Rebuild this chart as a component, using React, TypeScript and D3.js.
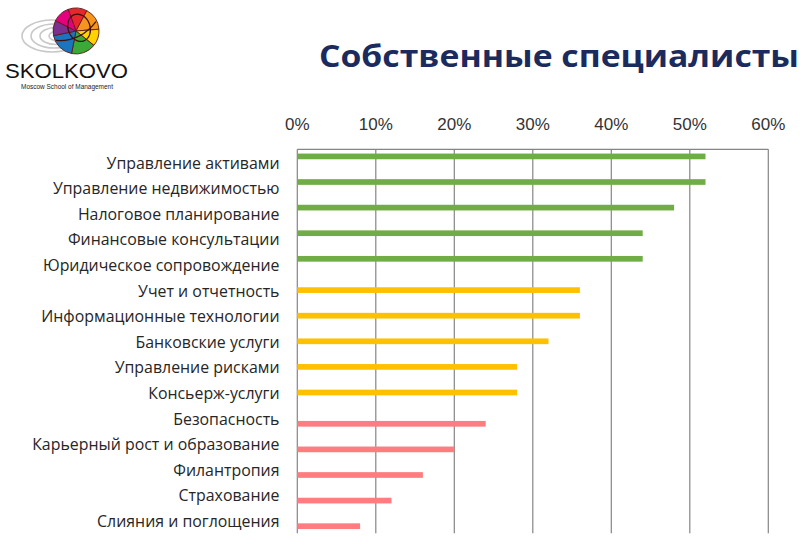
import React from "react";
import * as d3 from "d3";

const categories = [
  "Управление активами",
  "Управление недвижимостью",
  "Налоговое планирование",
  "Финансовые консультации",
  "Юридическое сопровождение",
  "Учет и отчетность",
  "Информационные технологии",
  "Банковские услуги",
  "Управление рисками",
  "Консьерж-услуги",
  "Безопасность",
  "Карьерный рост и образование",
  "Филантропия",
  "Страхование",
  "Слияния и поглощения",
];
const values = [0.52, 0.52, 0.48, 0.44, 0.44, 0.36, 0.36, 0.32, 0.28, 0.28, 0.24, 0.2, 0.16, 0.12, 0.08];
const seriesIndex = [0, 0, 0, 0, 0, 1, 1, 1, 1, 1, 2, 2, 2, 2, 2];
const seriesColors = ["#70ad47", "#ffc000", "#ff7c80"];
const ticks = [0, 0.1, 0.2, 0.3, 0.4, 0.5, 0.6];
const title = "Собственные специалисты";

const W = 807;
const H = 544;

export default function App() {
  const x = d3.scaleLinear().domain([0, 0.6]).range([297.3, 768.3]);
  const y = d3.scaleBand<string>().domain(categories).range([149.3, 533.3]);
  const slot = d3
    .scaleBand<number>()
    .domain([0, 1, 2])
    .range([0, y.bandwidth()])
    .paddingInner(0)
    .paddingOuter(0.75);
  const fmt = d3.format(".0%");
  const grid = "#858585";
  const top = y.range()[0];
  const bottom = y.range()[1];

  // logo swirl ellipses
  const swirls = [
    { cx: 52, cy: 36, rx: 30, ry: 16 },
    { cx: 54, cy: 36, rx: 23, ry: 12 },
    { cx: 56, cy: 36, rx: 16, ry: 8.5 },
    { cx: 58, cy: 36, rx: 9, ry: 5 },
  ];
  const sphereColors = ["#e8262b", "#f7941d", "#ffd200", "#3aa935", "#1b75bc", "#7b2f8e", "#e5007e"];
  const pie = d3.pie<number>().sort(null)([1, 1.2, 0.9, 1.3, 1.4, 0.8, 0.9]);
  const arc = d3.arc<d3.PieArcDatum<number>>().innerRadius(0).outerRadius(23);

  return (
    <div style={{ position: "absolute", left: 0, top: 0 }}>
      <svg width={W} height={H} style={{ display: "block", background: "#fff" }}>
        {/* Logo */}
        <g>
          {swirls.map((s, i) => (
            <ellipse key={i} cx={s.cx} cy={s.cy} rx={s.rx} ry={s.ry} fill="none" stroke="#c8c8c8" strokeWidth={1.6} />
          ))}
          <g transform="translate(76,31) rotate(-20)">
            {pie.map((p, i) => (
              <path key={i} d={arc(p) || ""} fill={sphereColors[i]} stroke="#5a1a1a" strokeWidth={0.8} />
            ))}
            <ellipse cx={4} cy={-2} rx={11} ry={14} fill="none" stroke="#3a1010" strokeWidth={1.2} />
            <path d="M-22,2 Q0,12 22,-2" fill="none" stroke="#3a1010" strokeWidth={1.2} />
          </g>
          <text x={5} y={78} fontFamily="Liberation Sans, Arial, sans-serif" fontSize={20.5} fill="#111" textLength={123} lengthAdjust="spacingAndGlyphs">
            SKOLKOVO
          </text>
          <text x={21} y={89} fontFamily="Liberation Sans, Arial, sans-serif" fontSize={6.5} fill="#222" textLength={92} lengthAdjust="spacingAndGlyphs">
            Moscow School of Management
          </text>
        </g>

        {/* Title */}
        <text
          x={319}
          y={67}
          fontFamily="Open Sans, sans-serif"
          fontWeight={700}
          fontSize={30}
          fill="#1b2b5e"
          textLength={480}
          lengthAdjust="spacingAndGlyphs"
        >
          {title}
        </text>

        {/* Tick labels */}
        {ticks.map((t) => (
          <text
            key={t}
            x={x(t)}
            y={129.5}
            textAnchor="middle"
            fontFamily="Liberation Sans, Arial, sans-serif"
            fontSize={17}
            fill="#333"
          >
            {fmt(t)}
          </text>
        ))}

        {/* Grid */}
        {ticks.map((t) => (
          <line key={"g" + t} x1={x(t)} x2={x(t)} y1={top} y2={bottom} stroke={grid} strokeWidth={1.2} />
        ))}
        <line x1={x(0)} x2={x(0.6)} y1={top} y2={top} stroke={grid} strokeWidth={1.2} />

        {/* Bars */}
        {categories.map((c, i) => (
          <rect
            key={c}
            x={x(0)}
            y={(y(c) as number) + (slot(seriesIndex[i]) as number)}
            width={x(values[i]) - x(0)}
            height={slot.bandwidth()}
            fill={seriesColors[seriesIndex[i]]}
          />
        ))}

        {/* Category labels */}
        {categories.map((c) => (
          <text
            key={"l" + c}
            x={279.5}
            y={(y(c) as number) + y.bandwidth() / 2 + 1}
            dy="0.35em"
            textAnchor="end"
            fontFamily="Open Sans, sans-serif"
            fontSize={15.9}
            fill="#262626"
          >
            {c}
          </text>
        ))}
      </svg>
    </div>
  );
}
